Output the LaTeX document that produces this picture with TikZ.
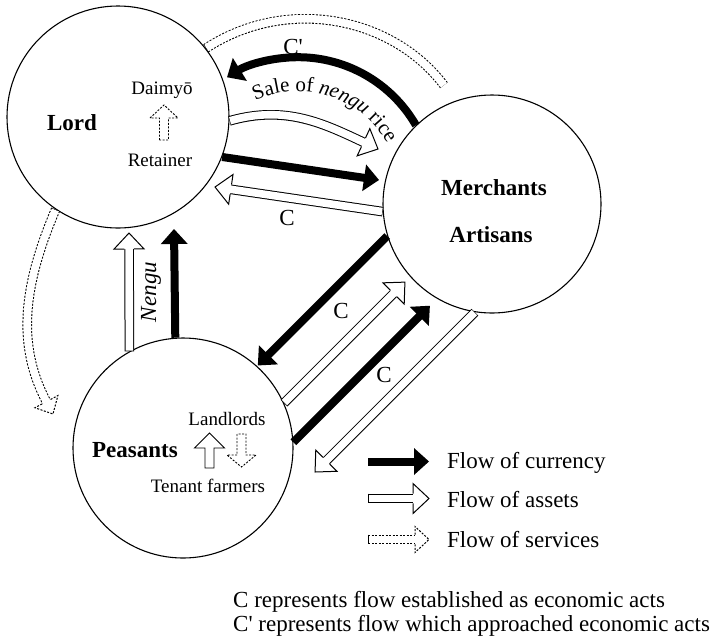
\documentclass[tikz,border=0pt]{standalone}
\usepackage{fontspec}
\setmainfont{Liberation Serif}
\newfontfamily\rawserif{Liberation Serif}[Ligatures=ResetAll]
\usetikzlibrary{decorations.markings,decorations.text,calc}

\newcommand{\curhead}{\fill (0,0) -- (-15,13.5) -- (-15,-13.5) -- cycle;}
\newcommand{\asshead}{\draw[line width=1pt, fill=white, line join=miter] (-16,4.8) -- (-16,15) -- (0,0) -- (-16,-15) -- (-16,-4.8);}
\newcommand{\serhead}{\draw[line width=1pt, fill=white, dash pattern=on 2pt off 1.5pt] (-14,4.8) -- (-14,13) -- (0,0) -- (-14,-13) -- (-14,-4.8);}
\newcommand{\flow}[2]{%
  \draw[#1shaft] #2;
  \draw[#1shaftb] #2;
  \path[decorate,decoration={markings,mark=at position 1 with {\csname #1head\endcsname}}] #2;}
\newcommand{\salefont}{\fontsize{21}{21}\selectfont}

\tikzset{
  curshaft/.style={line width=8pt, shorten >=14pt},
  curshaftb/.style={draw=none},
  assshaft/.style={line width=9.6pt, shorten >=15.5pt},
  assshaftb/.style={line width=7.6pt, draw=white, shorten >=15.5pt, shorten <=0.6pt},
  sershaft/.style={line width=9.6pt, shorten >=13.5pt, dash pattern=on 2pt off 1.5pt},
  sershaftb/.style={line width=7.6pt, draw=white, shorten >=13.5pt, shorten <=0.6pt},
  ring/.style={circle, draw, line width=1.1pt, inner sep=0pt},
  bigtxt/.style={font=\fontsize{23}{27}\selectfont},
  boldtxt/.style={font=\fontsize{23}{27}\selectfont\bfseries},
  smalltxt/.style={font=\fontsize{19}{22}\selectfont},
  innerbox/.style={line width=0.9pt, line join=miter},
}

\begin{document}
\begin{tikzpicture}[x=1pt,y=1pt]
\useasboundingbox (0,0) rectangle (714,-641);

% circles
\node[ring, minimum size=222pt] (lord) at (118,-117) {};
\node[ring, minimum size=218pt] (merch) at (492,-204) {};
\node[ring, minimum size=220pt] (peas) at (183,-448) {};

% circle texts
\node[boldtxt] (lordt) at (72,-123) {Lord};
\node[smalltxt] (daimyo) at (162,-90) {Daimyō};
\node[smalltxt] (retainer) at (160,-160) {Retainer};
\node[boldtxt] (mercht) at (494,-188) {Merchants};
\node[boldtxt] (artis) at (491,-235) {Artisans};
\node[boldtxt] (peast) at (135,-450) {Peasants};
\node[smalltxt] (landl) at (227,-419) {Landlords};
\node[smalltxt] (tenant) at (208,-486) {Tenant farmers};

% small inner arrows
\draw[innerbox, dash pattern=on 2pt off 1.5pt] (159.5,-140) -- (159.5,-118) -- (150,-118) -- (164,-105) -- (178,-118) -- (168.5,-118) -- (168.5,-140) -- cycle;
\draw[innerbox] (205,-468) -- (205,-448) -- (194.5,-448) -- (209.5,-433) -- (224.5,-448) -- (214,-448) -- (214,-468) -- cycle;
\draw[innerbox, dash pattern=on 2pt off 1.5pt] (237,-434) -- (237,-455) -- (227,-455) -- (241.5,-467) -- (256,-455) -- (246,-455) -- (246,-434) -- cycle;

% free ends
\coordinate (t1) at (452,-96);
\coordinate (t3) at (378,-149);
\coordinate (t4) at (379,-180);
\coordinate (t5) at (215,-187);
\coordinate (t6) at (53,-414);
\coordinate (t7) at (129,-233);
\coordinate (t9) at (174,-229);
\coordinate (t10) at ($(merch.197.4)+(225:183)$);
\coordinate (t11) at ($(peas.24.8)+(45:171)$);
\coordinate (t13) at ($(peas.3.6)+(45:193)$);
\coordinate (t14) at ($(merch.261.6)+(225:226)$);
\coordinate (arcc) at (297.7,-194.4);

% flows
\flow{ser}{(lord.38) to[out=33,in=127] (t1)}
\flow{cur}{(merch.134.6) arc[start angle=30, end angle=121.5, radius=136]}
\flow{ass}{(lord.-2.6) to[out=16,in=155] (t3)}
\flow{cur}{(lord.-21) -- (t4)}
\flow{ass}{(merch.184.7) -- (t5)}
\flow{ser}{(lord.236.7) to[out=247,in=118] (t6)}
\flow{ass}{(peas.119.4) -- (t7)}
\flow{cur}{(peas.94.7) -- (t9)}
\flow{cur}{(merch.197.4) -- (t10)}
\flow{ass}{(peas.24.8) -- (t11)}
\flow{cur}{(peas.3.6) -- (t13)}
\flow{ass}{(merch.261.6) -- (t14)}

% labels on flows
\path[decorate, decoration={text along path, text align=center,
  text={|\salefont|Sale of |\salefont\itshape|nengu|\salefont\upshape| rice}}]
  ($(arcc)+(115:103)$) arc[start angle=115, end angle=29, radius=103];
\node[bigtxt] (cprime) at (293,-47) {\rawserif C'};
\node[bigtxt] (c1) at (287,-218) {C};
\node[bigtxt] (c2) at (341,-311) {C};
\node[bigtxt] (c3) at (384,-375) {C};
\node[rotate=90, font=\fontsize{23}{27}\selectfont\itshape] (nengu) at (151,-292) {Nengu};

% legend
\coordinate (la1) at (368,-461.5); \coordinate (lb1) at (429,-461.5);
\coordinate (la2) at (368,-498.5); \coordinate (lb2) at (429,-498.5);
\coordinate (la3) at (368,-539.5); \coordinate (lb3) at (429,-539.5);
\flow{cur}{(la1) -- (lb1)}
\flow{ass}{(la2) -- (lb2)}
\flow{ser}{(la3) -- (lb3)}
\draw[line width=1pt] (la2) ++(0,4.8) -- ++(0,-9.6);
\draw[line width=1pt, dash pattern=on 2pt off 1.5pt] (la3) ++(0,4.8) -- ++(0,-9.6);
\node[bigtxt, anchor=base west, inner sep=0pt] (lg1) at (447,-468) {Flow of currency};
\node[bigtxt, anchor=base west, inner sep=0pt] (lg2) at (447,-507) {Flow of assets};
\node[bigtxt, anchor=base west, inner sep=0pt] (lg3) at (447,-547) {Flow of services};

% notes
\node[bigtxt, anchor=base west, inner sep=0pt] (n1) at (233,-607) {C represents flow established as economic acts};
\node[bigtxt, anchor=base west, inner sep=0pt] (n2) at (233,-631) {\rawserif C' represents flow which approached economic acts};
\end{tikzpicture}
\end{document}
